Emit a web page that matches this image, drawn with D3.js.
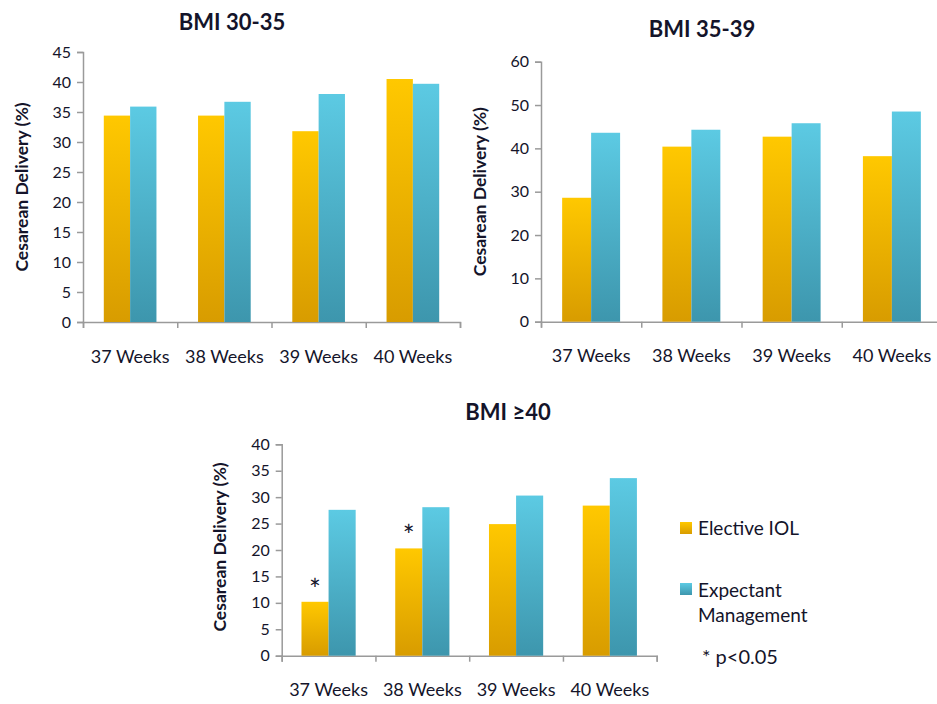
<!DOCTYPE html>
<html>
<head>
<meta charset="utf-8">
<script src="https://cdn.jsdelivr.net/npm/d3@7"></script>
<style>
  body { margin: 0; background: #fff; }
  text { font-family: Lato, "Open Sans", sans-serif; fill: #14142a; }
</style>
</head>
<body>
<div id="container"></div>
<script>
var width = 937;
var height = 704;

// data
var weeks = ["37 Weeks", "38 Weeks", "39 Weeks", "40 Weeks"];
var series = ["Elective IOL", "Expectant Management"];
var iol3035 = [34.4, 34.4, 31.8, 40.5];
var exp3035 = [35.9, 36.7, 38.0, 39.7];
var iol3539 = [28.6, 40.4, 42.7, 38.2];
var exp3539 = [43.6, 44.3, 45.8, 48.5];
var iol40 = [10.2, 20.3, 24.9, 28.4];
var exp40 = [27.6, 28.1, 30.3, 33.6];
var sig40 = [true, true, false, false];

var svg = d3.select("#container")
    .append("svg")
    .attr("width", width)
    .attr("height", height);

// gradients for the bars
var defs = svg.append("defs");
function grad(id, top, bottom) {
    var g = defs.append("linearGradient")
        .attr("id", id)
        .attr("x1", 0).attr("y1", 0)
        .attr("x2", 0).attr("y2", 1);
    g.append("stop").attr("offset", "0%").attr("stop-color", top);
    g.append("stop").attr("offset", "100%").attr("stop-color", bottom);
}
grad("gOrange", "#ffc800", "#d89c00");
grad("gBlue", "#5ccae3", "#3d96ad");
var fills = ["url(#gOrange)", "url(#gBlue)"];

function drawChart(opt) {
    var g = svg.append("g");

    var x0 = d3.scaleBand()
        .domain(weeks)
        .range([opt.left, opt.right])
        .padding(0);
    var x1 = d3.scaleBand()
        .domain(series)
        .range([0, x0.bandwidth()])
        .paddingInner(0)
        .paddingOuter(opt.pad);
    var y = d3.scaleLinear()
        .domain([0, opt.max])
        .range([opt.bottom, opt.top]);

    // y axis
    var yAxis = g.append("g")
        .attr("transform", "translate(" + opt.left + ",0)")
        .call(d3.axisLeft(y).tickValues(d3.range(0, opt.max + 0.1, opt.step)).tickSize(6).tickPadding(6));
    yAxis.select(".domain").attr("stroke", "#9a9a9a").attr("stroke-width", 1.5);
    yAxis.selectAll(".tick line").attr("stroke", "#9a9a9a").attr("stroke-width", 1.5);
    yAxis.selectAll(".tick text")
        .style("font-family", "Lato, sans-serif")
        .style("font-size", "16px")
        .attr("fill", "#14142a");

    // x axis: ticks at band boundaries
    var xb = d3.scaleLinear().domain([0, weeks.length]).range([opt.left, opt.right]);
    var xAxis = g.append("g")
        .attr("transform", "translate(0," + opt.bottom + ")")
        .call(d3.axisBottom(xb).tickValues(d3.range(0, weeks.length + 1)).tickSize(6).tickFormat(""));
    xAxis.select(".domain").attr("stroke", "#9a9a9a").attr("stroke-width", 1.5);
    xAxis.selectAll(".tick line").attr("stroke", "#9a9a9a").attr("stroke-width", 1.5);

    var xLab = g.append("g")
        .attr("transform", "translate(0," + opt.bottom + ")")
        .call(d3.axisBottom(x0).tickSize(0).tickPadding(opt.labPad));
    xLab.select(".domain").remove();
    xLab.selectAll(".tick text")
        .style("font-family", "Lato, sans-serif")
        .style("font-size", "18px")
        .attr("fill", "#14142a");

    // bars
    var rows = weeks.map(function (w, i) {
        return { week: w, vals: [opt.iol[i], opt.exp[i]], sig: opt.sig ? opt.sig[i] : false };
    });
    var grp = g.selectAll(".grp")
        .data(rows)
        .enter().append("g")
        .attr("transform", function (d) { return "translate(" + x0(d.week) + ",0)"; });
    grp.selectAll("rect")
        .data(function (d) { return d.vals.map(function (v, j) { return { s: series[j], v: v, j: j }; }); })
        .enter().append("rect")
        .attr("x", function (d) { return x1(d.s); })
        .attr("y", function (d) { return y(d.v); })
        .attr("width", x1.bandwidth())
        .attr("height", function (d) { return opt.bottom - y(d.v); })
        .attr("fill", function (d) { return fills[d.j]; });

    // significance stars
    grp.filter(function (d) { return d.sig; })
        .append("text")
        .attr("x", x1(series[0]) + x1.bandwidth() / 2)
        .attr("y", function (d) { return y(d.vals[0]) - 2; })
        .attr("text-anchor", "middle")
        .style("font-size", "28px")
        .text("*");

    // title
    g.append("text")
        .attr("x", opt.titleX)
        .attr("y", opt.titleY)
        .attr("text-anchor", "middle")
        .style("font-size", "22px")
        .style("font-weight", "bold")
        .text(opt.title);

    // y axis title
    g.append("text")
        .attr("transform", "translate(" + opt.ytX + "," + ((opt.top + opt.bottom) / 2 + opt.ytDy) + ") rotate(-90)")
        .attr("text-anchor", "middle")
        .attr("dy", "0.35em")
        .style("font-size", "17.5px")
        .style("font-weight", "bold")
        .text("Cesarean Delivery (%)");
}

drawChart({
    title: "BMI 30-35", titleX: 232, titleY: 30,
    left: 83, right: 460, top: 52, bottom: 322,
    max: 45, step: 5, pad: 0.79, labPad: 28,
    ytX: 22, ytDy: 0,
    iol: iol3035, exp: exp3035
});

drawChart({
    title: "BMI 35-39", titleX: 702, titleY: 37,
    left: 541, right: 942, top: 61.7, bottom: 321.7,
    max: 60, step: 10, pad: 0.73, labPad: 28,
    ytX: 480, ytDy: 0,
    iol: iol3539, exp: exp3539
});

drawChart({
    title: "BMI \u226540", titleX: 508, titleY: 420,
    left: 281.7, right: 656.7, top: 444.3, bottom: 655.7,
    max: 40, step: 5, pad: 0.73, labPad: 28,
    ytX: 220, ytDy: -3,
    iol: iol40, exp: exp40, sig: sig40
});

// legend
var legend = svg.append("g");
var legY = [522, 583];
legend.selectAll("rect")
    .data(series)
    .enter().append("rect")
    .attr("x", 680)
    .attr("y", function (d, i) { return legY[i]; })
    .attr("width", 12)
    .attr("height", 12)
    .attr("fill", function (d, i) { return fills[i]; });
legend.append("text")
    .attr("x", 698).attr("y", legY[0] + 13)
    .style("font-size", "19px")
    .text("Elective IOL");
legend.append("text")
    .attr("x", 698).attr("y", legY[1] + 14)
    .style("font-size", "19px")
    .text("Expectant");
legend.append("text")
    .attr("x", 698).attr("y", legY[1] + 39)
    .style("font-size", "19px")
    .text("Management");
legend.append("text")
    .attr("x", 702).attr("y", 664)
    .style("font-size", "20px")
    .text("* p<0.05");
</script>
</body>
</html>
